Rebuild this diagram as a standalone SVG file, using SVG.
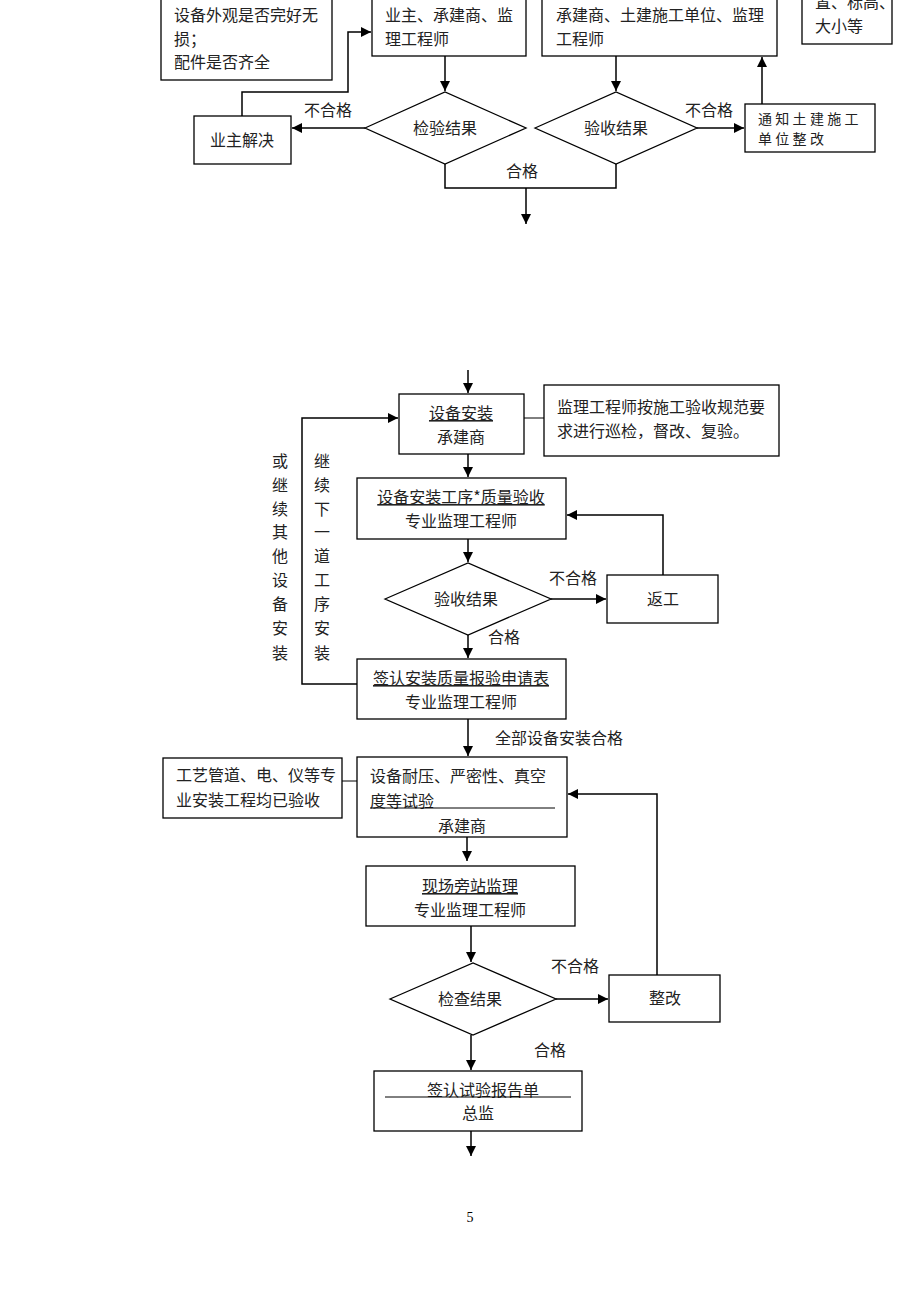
<svg xmlns="http://www.w3.org/2000/svg" width="920" height="1302" viewBox="0 0 920 1302">
<style>
.b{fill:#fff;stroke:#000;stroke-width:1.3}
.t{font-family:"Noto Sans CJK SC","Noto Sans",sans-serif;font-size:16px;fill:#222}
.m{text-anchor:middle}
.u{text-decoration:underline}
.c{fill:none;stroke:#000;stroke-width:1.5}
.l{fill:none;stroke:#000;stroke-width:1}
</style>
<defs>
<marker id="a" viewBox="0 0 10 10" refX="10" refY="5" markerWidth="10" markerHeight="10" markerUnits="userSpaceOnUse" orient="auto">
<path d="M0,0 L10,5 L0,10 z" fill="#000"/>
</marker>
</defs>
<rect width="920" height="1302" fill="#fff"/>

<g id="connectors">
<path class="c" d="M365,128 H292" marker-end="url(#a)"/>
<path class="c" d="M242,116 V92 H348 V32 H371" marker-end="url(#a)"/>
<path class="c" d="M445,56 V91" marker-end="url(#a)"/>
<path class="c" d="M616,56 V91" marker-end="url(#a)"/>
<path class="c" d="M697,128 H744" marker-end="url(#a)"/>
<path class="c" d="M762,104 V57" marker-end="url(#a)"/>
<path class="c" d="M445,164 V188 H616 V164"/>
<path class="c" d="M526,188 V224" marker-end="url(#a)"/>

<path class="c" d="M468,370 V393" marker-end="url(#a)"/>
<path class="l" d="M524,418 H544"/>
<path class="c" d="M468,454 V477" marker-end="url(#a)"/>
<path class="c" d="M468,539 V562" marker-end="url(#a)"/>
<path class="c" d="M551,599 H606" marker-end="url(#a)"/>
<path class="c" d="M663,575 V515 H567" marker-end="url(#a)"/>
<path class="c" d="M468,635 V658" marker-end="url(#a)"/>
<path class="c" d="M357,684 H302 V418 H398" marker-end="url(#a)"/>
<path class="c" d="M468,719 V756" marker-end="url(#a)"/>
<path class="l" d="M342,781 H357"/>
<path class="c" d="M467,837 V861" marker-end="url(#a)"/>
<path class="c" d="M471,926 V962" marker-end="url(#a)"/>
<path class="c" d="M556,999 H608" marker-end="url(#a)"/>
<path class="c" d="M657,975 V794 H568" marker-end="url(#a)"/>
<path class="c" d="M471,1035 V1070" marker-end="url(#a)"/>
<path class="c" d="M471,1131 V1156" marker-end="url(#a)"/>
</g>

<g id="labels" class="t">
<text x="328" y="116" class="m">不合格</text>
<text x="709" y="116" class="m">不合格</text>
<text x="522" y="177" class="m">合格</text>
<text x="573" y="584" class="m">不合格</text>
<text x="504" y="643" class="m">合格</text>
<text x="559" y="744" class="m">全部设备安装合格</text>
<text x="575" y="972" class="m">不合格</text>
<text x="550" y="1056" class="m">合格</text>
<g class="m">
<text x="280" y="467">或</text><text x="280" y="491">继</text><text x="280" y="515">续</text><text x="280" y="538">其</text><text x="280" y="562">他</text><text x="280" y="586">设</text><text x="280" y="610">备</text><text x="280" y="634">安</text><text x="280" y="659">装</text>
<text x="322" y="467">继</text><text x="322" y="491">续</text><text x="322" y="515">下</text><text x="322" y="538">一</text><text x="322" y="562">道</text><text x="322" y="586">工</text><text x="322" y="610">序</text><text x="322" y="634">安</text><text x="322" y="659">装</text>
</g>
</g>

<g id="n-appearance"><rect class="b" x="161" y="-20" width="171" height="100"/>
<text class="t" x="174" y="21">设备外观是否完好无</text><text class="t" x="174" y="45">损；</text><text class="t" x="174" y="68">配件是否齐全</text></g>
<g id="n-owner-check"><rect class="b" x="372" y="-20" width="154" height="76"/>
<text class="t" x="385" y="21">业主、承建商、监</text><text class="t" x="385" y="45">理工程师</text></g>
<g id="n-civil-check"><rect class="b" x="542" y="-20" width="235" height="76"/>
<text class="t" x="556" y="21">承建商、土建施工单位、监理</text><text class="t" x="556" y="45">工程师</text></g>
<g id="n-position"><rect class="b" x="802" y="-20" width="90" height="64"/>
<text class="t" x="815" y="8">置、标高、</text><text class="t" x="815" y="32">大小等</text></g>
<g id="n-inspect"><polygon class="b" points="365,128 445,92 526,128 445,164"/><text class="t m" x="445" y="134">检验结果</text></g>
<g id="n-accept"><polygon class="b" points="535,128 616,92 697,128 616,164"/><text class="t m" x="616" y="134">验收结果</text></g>
<g id="n-owner-solve"><rect class="b" x="194" y="116" width="97" height="48"/><text class="t m" x="242" y="146">业主解决</text></g>
<g id="n-notify"><rect class="b" x="745" y="104" width="130" height="48"/>
<text class="t" x="758" y="124" style="font-size:14px;letter-spacing:3.3px">通知土建施工</text><text class="t" x="758" y="144" style="font-size:14px;letter-spacing:3.3px">单位整改</text></g>

<g id="n-install"><rect class="b" x="399" y="394" width="125" height="60"/>
<text class="t m u" x="461" y="419">设备安装</text><text class="t m" x="461" y="443">承建商</text></g>
<g id="n-patrol"><rect class="b" x="544" y="385" width="235" height="71"/>
<text class="t" x="557" y="413">监理工程师按施工验收规范要</text><text class="t" x="557" y="437">求进行巡检，督改、复验。</text></g>
<g id="n-process-accept"><rect class="b" x="357" y="478" width="209" height="61"/>
<text class="t m u" x="461" y="503">设备安装工序*质量验收</text><text class="t m" x="461" y="527">专业监理工程师</text></g>
<g id="n-accept2"><polygon class="b" points="385,599 468,563 551,599 468,635"/><text class="t m" x="466" y="605">验收结果</text></g>
<g id="n-rework"><rect class="b" x="607" y="575" width="111" height="48"/><text class="t m" x="663" y="605">返工</text></g>
<g id="n-sign-install"><rect class="b" x="357" y="659" width="209" height="60"/>
<text class="t m u" x="461" y="684">签认安装质量报验申请表</text><text class="t m" x="461" y="708">专业监理工程师</text></g>
<g id="n-test"><rect class="b" x="357" y="757" width="210" height="80"/>
<text class="t" x="370" y="782">设备耐压、严密性、真空</text><text class="t" x="370" y="807">度等试验</text>
<line class="l" x1="370" y1="808" x2="555" y2="808"/>
<text class="t m" x="462" y="832">承建商</text></g>
<g id="n-other"><rect class="b" x="163" y="758" width="179" height="60"/>
<text class="t" x="176" y="781">工艺管道、电、仪等专</text><text class="t" x="176" y="806">业安装工程均已验收</text></g>
<g id="n-onsite"><rect class="b" x="366" y="866" width="209" height="60"/>
<text class="t m u" x="470" y="892">现场旁站监理</text><text class="t m" x="470" y="916">专业监理工程师</text></g>
<g id="n-check"><polygon class="b" points="390,999 473,963 556,999 473,1035"/><text class="t m" x="470" y="1005">检查结果</text></g>
<g id="n-fix"><rect class="b" x="609" y="975" width="111" height="47"/><text class="t m" x="665" y="1004">整改</text></g>
<g id="n-sign-test"><rect class="b" x="374" y="1071" width="208" height="60"/>
<text class="t m" x="483" y="1096">签认试验报告单</text>
<line class="l" x1="385" y1="1097" x2="571" y2="1097"/>
<text class="t m" x="478" y="1119">总监</text></g>

<text x="470" y="1222" font-family="Liberation Serif,serif" font-size="14" text-anchor="middle">5</text>
</svg>
